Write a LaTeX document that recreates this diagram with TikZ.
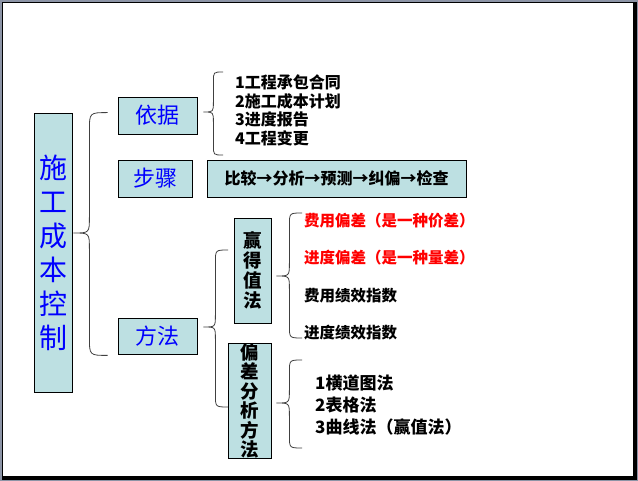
\documentclass[tikz,border=0pt]{standalone}
\usepackage{fontspec}
\setmainfont{Noto Sans CJK SC}
\usepackage{xcolor}
\usepackage{tikz}
\usetikzlibrary{calc}

\definecolor{boxfill}{RGB}{189,224,226}
\definecolor{framegray}{RGB}{140,148,166}

\tikzset{
  box/.style={draw=black, fill=boxfill, line width=0.8pt, inner sep=0pt, align=center},
  item/.style={anchor=west, inner sep=0pt, align=left, font=\bfseries\fontsize{16}{18.5}\selectfont},
  bracel/.style={draw=black!75, line width=0.8pt},
}

% curly brace: cusp, top tip, bottom tip, cusp-to-stem distance
\newcommand{\curly}[4]{%
  \draw[bracel] let \p1=(#1), \p2=(#2), \p3=(#3) in
    (\p2) .. controls (\x1+#4,\y2) .. (\x1+#4,\y2-\x2+\x1+#4)
    -- (\x1+#4,\y1+#4) .. controls (\x1+#4,\y1) .. (\p1)
    .. controls (\x1+#4,\y1) .. (\x1+#4,\y1-#4)
    -- (\x1+#4,\y3+\x2-\x1-#4) .. controls (\x1+#4,\y3) .. (\p3);}

\begin{document}
\begin{tikzpicture}[x=1pt, y=-1pt]
            % Frame
            \fill[framegray] (0,0) rectangle (638,481);
            \fill[black] (2,2) rectangle (637,480);
            \fill[white] (3,3) rectangle (633,476);
            \useasboundingbox (0,0) rectangle (638,481);

            % Main box
            \node[box, minimum width=38, minimum height=279, text=blue,
                  font=\fontsize{28}{34}\selectfont] (kongzhi) at (53,252.5) {施\\工\\成\\本\\控\\制};

            % Second level
            \node[box, minimum width=79, minimum height=37, text=blue,
                  font=\fontsize{22}{24}\selectfont] (yiju) at (157.5,115.5) {依据};
            \node[box, minimum width=74, minimum height=37, text=blue,
                  font=\fontsize{22}{24}\selectfont] (buzhou) at (155,178.5) {步骤};
            \node[box, minimum width=79, minimum height=36, text=blue,
                  font=\fontsize{22}{24}\selectfont] (fangfa) at (157.5,336) {方法};

            % Basis list
            \node[item] (yj-list) at (235,110.5) {1工程承包合同\\2施工成本计划\\3进度报告\\4工程变更};

            % Steps
            \node[box, minimum width=259, minimum height=37,
                  font=\bfseries\fontsize{16}{18}\selectfont] (steps) at (336.5,178.5) {比较→分析→预测→纠偏→检查};

            % Methods
            \node[box, minimum width=37, minimum height=105,
                  font=\bfseries\fontsize{18.5}{20}\selectfont] (ydz) at (252.5,270.5) {赢\\得\\值\\法};
            \node[box, minimum width=43, minimum height=114,
                  font=\bfseries\fontsize{18.5}{19.5}\selectfont] (pcfx) at (249.5,401) {偏\\差\\分\\析\\方\\法};

            % Earned value items
            \node[item, text=red, font=\bfseries\fontsize{15.5}{18}\selectfont] (cv) at (304,221) {费用偏差（是一种价差）};
            \node[item, text=red, font=\bfseries\fontsize{15.5}{18}\selectfont] (sv) at (304,258) {进度偏差（是一种量差）};
            \node[item, font=\bfseries\fontsize{15.5}{18}\selectfont] (cpi) at (304,296) {费用绩效指数};
            \node[item, font=\bfseries\fontsize{15.5}{18}\selectfont] (spi) at (304,333) {进度绩效指数};

            % Variance analysis items
            \node[item, font=\bfseries\fontsize{17}{22}\selectfont] (pc-list) at (315,405) {1横道图法\\2表格法\\3曲线法（赢值法）};

            % Brace ends
            \coordinate (kz-c) at ($(kongzhi.east)+(1,-19.5)$);
            \coordinate (kz-t) at ($(yiju.west |- kongzhi.north)+(-10,0)$);
            \coordinate (kz-b) at ($(fangfa.south west)+(-10,1)$);
            \coordinate (yj-c) at ($(yiju.east)+(6,-3.5)$);
            \coordinate (yj-t) at (223,72);
            \coordinate (yj-b) at (223,155);
            \coordinate (ff-c) at ($(fangfa.east)+(6,-9)$);
            \coordinate (ff-t) at (228,250);
            \coordinate (ff-b) at (228,407);
            \coordinate (ydz-c) at ($(ydz.east)+(5,5.5)$);
            \coordinate (ydz-t) at (302,213);
            \coordinate (ydz-b) at (302,338);
            \coordinate (pc-c) at ($(pcfx.east)+(5,2)$);
            \coordinate (pc-t) at (302,360);
            \coordinate (pc-b) at (302,448);

            % Braces
            \curly{kz-c}{kz-t}{kz-b}{16pt}
            \curly{yj-c}{yj-t}{yj-b}{10pt}
            \curly{ff-c}{ff-t}{ff-b}{12pt}
            \curly{ydz-c}{ydz-t}{ydz-b}{13pt}
            \curly{pc-c}{pc-t}{pc-b}{13pt}
        \end{tikzpicture}
\end{document}
